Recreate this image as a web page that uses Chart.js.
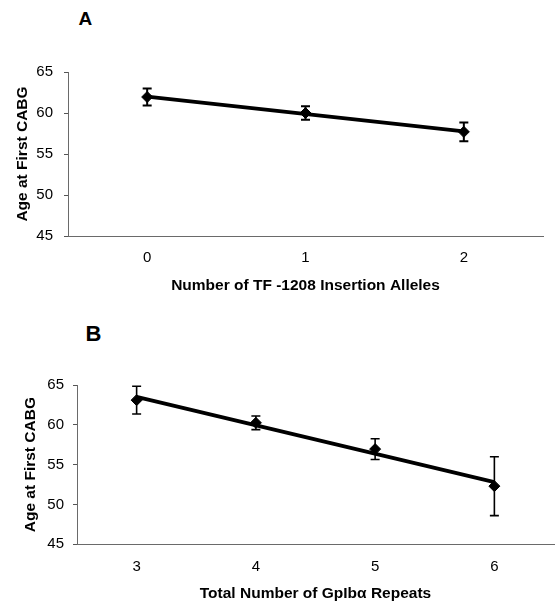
<!DOCTYPE html>
<html>
<head>
<meta charset="utf-8">
<script src="https://cdn.jsdelivr.net/npm/chart.js@4.4.1/dist/chart.umd.min.js"></script>
<style>
  html, body { margin: 0; padding: 0; background: #fff; }
  body { width: 555px; height: 605px; position: relative; overflow: hidden; font-family: 'Liberation Sans', Arial, sans-serif; }
  .panel { position: absolute; left: 0; }
  .letter { position: absolute; font-weight: bold; line-height: 1; color: #000; }
</style>
</head>
<body>
<div class="letter" style="left:78.5px; top:9px; font-size:19px;">A</div>
<div class="letter" style="left:85.5px; top:323px; font-size:22px;">B</div>
<div class="panel" style="top:0px;"><canvas id="chartA" width="555" height="300"></canvas></div>
<div class="panel" style="top:300px;"><canvas id="chartB" width="555" height="305"></canvas></div>
<script>
// ---- Panel A data ----
const allelesA = [0, 1, 2];
const ageA = [61.95, 60.0, 57.7];
const errA = [1.05, 0.83, 1.15];
const trendXA = [0, 2];
const trendYA = [62.0, 57.75];
const xTitleA = 'Number of TF -1208 Insertion Alleles';

// ---- Panel B data ----
const repeatsB = [3, 4, 5, 6];
const ageB = [63.1, 60.25, 56.95, 52.3];
const errB = [1.75, 0.85, 1.3, 3.7];
const trendXB = [3, 6];
const trendYB = [63.5, 52.8];
const xTitleB = 'Total Number of GpIbα Repeats';

const yTitle = 'Age at First CABG';
const yTicks = [45, 50, 55, 60, 65];

Chart.defaults.font.family = "'Liberation Sans', Arial, sans-serif";
Chart.defaults.color = '#000';

const errorBars = {
  id: 'errorBars',
  afterDatasetsDraw(chart, args, o) {
    const { ctx, scales: { x, y } } = chart;
    ctx.save();
    ctx.strokeStyle = '#000';
    ctx.lineWidth = o.width;
    o.xs.forEach((xv, i) => {
      const px = x.getPixelForValue(xv);
      const t = y.getPixelForValue(o.ys[i] + o.errs[i]);
      const b = y.getPixelForValue(o.ys[i] - o.errs[i]);
      ctx.beginPath();
      ctx.moveTo(px, t); ctx.lineTo(px, b);
      ctx.moveTo(px - o.cap, t); ctx.lineTo(px + o.cap, t);
      ctx.moveTo(px - o.cap, b); ctx.lineTo(px + o.cap, b);
      ctx.stroke();
    });
    ctx.restore();
  }
};

function makePanel(id, p) {
  new Chart(document.getElementById(id), {
    type: 'scatter',
    data: {
      datasets: [
        {
          type: 'line',
          data: p.tx.map((v, i) => ({ x: v, y: p.ty[i] })),
          borderColor: '#000',
          borderWidth: p.lineW,
          pointRadius: 0,
          fill: false,
          order: 2
        },
        {
          data: p.xs.map((v, i) => ({ x: v, y: p.ys[i] })),
          pointStyle: 'rectRot',
          pointRadius: p.markR,
          backgroundColor: '#000',
          borderColor: '#000',
          borderWidth: 1,
          showLine: false,
          order: 1
        }
      ]
    },
    options: {
      responsive: false,
      animation: false,
      events: [],
      layout: { autoPadding: false, padding: { top: p.top, right: p.right, left: 0, bottom: 0 } },
      plugins: {
        legend: { display: false },
        tooltip: { enabled: false },
        errorBars: { xs: p.xs, ys: p.ys, errs: p.errs, cap: p.cap, width: p.errW }
      },
      scales: {
        x: {
          type: 'linear',
          min: p.xmin, max: p.xmax,
          afterBuildTicks: s => { s.ticks = p.xs.map(v => ({ value: v })); },
          afterFit: s => { s.height = p.xh; s.paddingLeft = 0; s.paddingRight = 0; },
          grid: { display: false, drawTicks: false },
          border: { display: true, color: '#6a6a6a', width: 1 },
          ticks: { font: { size: p.tickSize }, padding: p.xPad, color: '#000' },
          title: { display: true, text: p.xTitle, font: { size: 15.5, weight: 'bold' }, padding: { top: 0, bottom: p.xTitlePad }, color: '#000' }
        },
        y: {
          min: 45, max: 65,
          afterBuildTicks: s => { s.ticks = yTicks.map(v => ({ value: v })); },
          afterFit: s => { s.width = p.yw; s.paddingTop = 0; s.paddingBottom = 0; },
          grid: { drawOnChartArea: false, drawTicks: true, tickLength: 4, color: '#555' },
          border: { display: true, color: '#6a6a6a', width: 1, dash: [4, 2] },
          ticks: { font: { size: p.tickSize }, padding: p.yPad, color: '#000' },
          title: { display: true, text: yTitle, font: { size: 15.5, weight: 'bold' }, padding: { top: p.yTitlePad, bottom: 0 }, color: '#000' }
        }
      }
    },
    plugins: [errorBars]
  });
}

makePanel('chartA', {
  xs: allelesA, ys: ageA, errs: errA, tx: trendXA, ty: trendYA, xTitle: xTitleA,
  xmin: -0.5, xmax: 2.5, top: 72, right: 12, xh: 64, yw: 68,
  tickSize: 15, xPad: 13, yPad: 11, xTitlePad: 4.5, yTitlePad: 13,
  lineW: 3.8, markR: 5.5, cap: 4.5, errW: 2
});

makePanel('chartB', {
  xs: repeatsB, ys: ageB, errs: errB, tx: trendXB, ty: trendYB, xTitle: xTitleB,
  xmin: 2.5, xmax: 6.5, top: 85, right: 1, xh: 60.7, yw: 77,
  tickSize: 15, xPad: 14, yPad: 9, xTitlePad: 1.5, yTitlePad: 21,
  lineW: 3.8, markR: 5.5, cap: 4.5, errW: 1.6
});
</script>
</body>
</html>
